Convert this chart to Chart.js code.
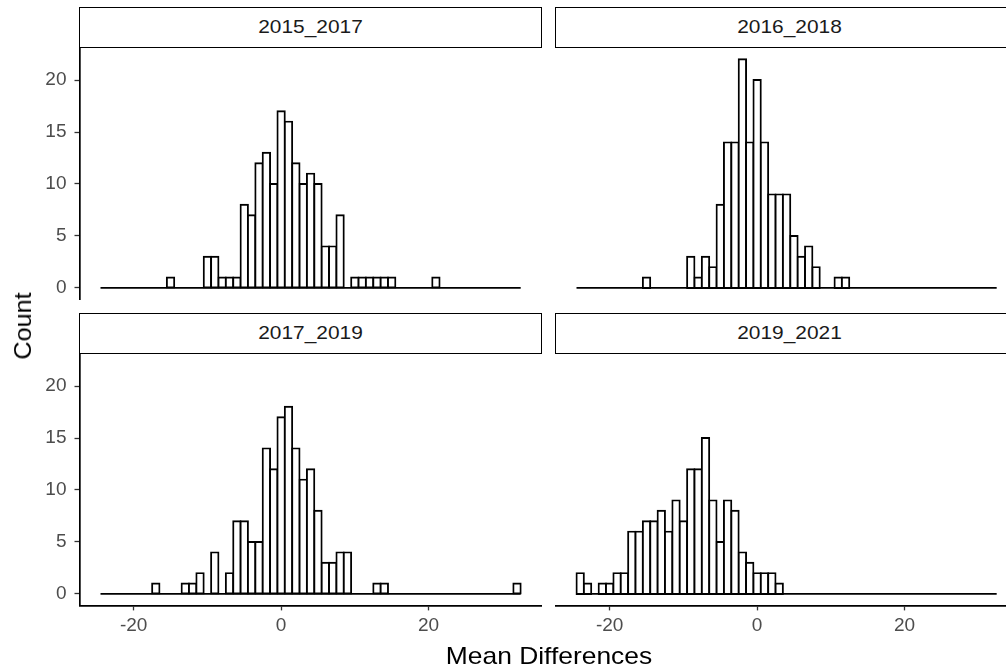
<!DOCTYPE html>
<html>
<head>
<meta charset="utf-8">
<script src="https://cdn.jsdelivr.net/npm/chart.js@4.4.1/dist/chart.umd.min.js"></script>
<style>
  html, body { margin: 0; padding: 0; background: #fff; }
  #wrap { position: relative; width: 1006px; height: 670px; overflow: hidden; background: #fff; font-family: "Liberation Sans", Arial, sans-serif; }
  canvas { position: absolute; }
  .strip { position: absolute; box-sizing: border-box; border: 1.7px solid #000; background: #fff; color: #1A1A1A; font-size: 19px; text-align: center; line-height: 37px; }
  .strip span { display: inline-block; transform: scaleX(1.1); }
  .title { position: absolute; color: #000; font-size: 24px; white-space: nowrap; }
</style>
</head>
<body>
<div id="wrap">
  <div class="strip" style="left:79px; top:6.5px; width:463px; height:41px;"><span>2015_2017</span></div>
  <div class="strip" style="left:555px; top:6.5px; width:470px; height:41px;"><span>2016_2018</span></div>
  <div class="strip" style="left:79px; top:312.5px; width:463px; height:41px;"><span>2017_2019</span></div>
  <div class="strip" style="left:555px; top:312.5px; width:470px; height:41px;"><span>2019_2021</span></div>
  <canvas id="cTL"></canvas>
  <canvas id="cTR"></canvas>
  <canvas id="cBL"></canvas>
  <canvas id="cBR"></canvas>
  <div class="title" style="left:549px; top:656px; transform: translate(-50%,-50%) scaleX(1.1);">Mean Differences</div>
  <div class="title" style="left:23px; top:326px; transform: translate(-50%,-50%) rotate(-90deg) scaleX(1.05);">Count</div>
</div>
<script>
// ---- data ----
const panelNames = ["2015_2017", "2016_2018", "2017_2019", "2019_2021"];
const binCenters = [-24,-23,-22,-21,-20,-19,-18,-17,-16,-15,-14,-13,-12,-11,-10,-9,-8,-7,-6,-5,-4,-3,-2,-1,0,1,2,3,4,5,6,7,8,9,10,11,12,13,14,15,16,17,18,19,20,21,22,23,24,25,26,27,28,29,30,31,32];
const counts2015_2017 = [0,0,0,0,0,0,0,0,0,1,0,0,0,0,3,3,1,1,1,8,7,12,13,10,17,16,12,10,11,10,4,4,7,0,1,1,1,1,1,1,0,0,0,0,0,1,0,0,0,0,0,0,0,0,0,0,0];
const counts2016_2018 = [0,0,0,0,0,0,0,0,0,1,0,0,0,0,0,3,1,3,2,8,14,14,22,14,20,14,9,9,9,5,3,4,2,0,0,1,1,0,0,0,0,0,0,0,0,0,0,0,0,0,0,0,0,0,0,0,0];
const counts2017_2019 = [0,0,0,0,0,0,0,1,0,0,0,1,1,2,0,4,0,2,7,7,5,5,14,12,17,18,14,11,12,8,3,3,4,4,0,0,0,1,1,0,0,0,0,0,0,0,0,0,0,0,0,0,0,0,0,0,1];
const counts2019_2021 = [2,1,0,1,1,2,2,6,6,7,7,8,6,9,7,12,12,15,9,5,9,8,4,3,2,2,2,1,0,0,0,0,0,0,0,0,0,0,0,0,0,0,0,0,0,0,0,0,0,0,0,0,0,0,0,0,0];
const xTickValues = [-20, 0, 20];
const yTickValues = [0, 5, 10, 15, 20];
const baselineX = [-24.5, 32.5];

// ---- layout ----
const X_MIN = -27.35, X_MAX = 35.35, Y_MIN = -1.1, Y_MAX = 23.1;
const PL = { x0: 79.5, x1: 541.7 }, PR = { x0: 555.5, x1: 1017.7 };
const PT = { y0: 47.8, y1: 299.4 }, PB = { y0: 353.8, y1: 605.4 };
const Y_AXIS_W = 79.5, X_AXIS_H = 40;
const FONT = "'Liberation Sans', Arial, sans-serif";

Chart.defaults.font.family = FONT;

function makePanel(id, counts, col, row) {
  const showY = col === 0, showX = row === 1;
  const px = col === 0 ? PL : PR, py = row === 0 ? PT : PB;
  const cx = col === 0 ? 0 : 500, cy = row === 0 ? 0 : 300;
  const cw = col === 0 ? 600 : 560, ch = row === 0 ? 330 : 370;
  const cv = document.getElementById(id);
  cv.width = cw; cv.height = ch;
  cv.style.left = cx + 'px'; cv.style.top = cy + 'px';
  cv.style.width = cw + 'px'; cv.style.height = ch + 'px';
  const padding = {
    left: px.x0 - cx - (showY ? Y_AXIS_W : 0),
    right: cx + cw - px.x1,
    top: py.y0 - cy,
    bottom: cy + ch - py.y1 - (showX ? X_AXIS_H : 0)
  };
  new Chart(cv, {
    type: 'bar',
    data: {
      datasets: [
        {
          type: 'line',
          data: baselineX.map(v => ({ x: v, y: 0 })),
          borderColor: '#000', borderWidth: 1.8, pointRadius: 0, order: 2
        },
        {
          type: 'bar',
          data: binCenters.map((c, i) => ({ x: c, y: counts[i] })),
          backgroundColor: '#fff', borderColor: '#000', borderWidth: 1.9,
          borderSkipped: false, inflateAmount: 0.95,
          barPercentage: 1, categoryPercentage: 1, order: 1
        }
      ]
    },
    options: {
      responsive: false, animation: false, devicePixelRatio: 1,
      layout: { padding },
      plugins: { legend: { display: false }, tooltip: { enabled: false } },
      scales: {
        x: {
          type: 'linear', min: X_MIN, max: X_MAX, offset: false, display: showX,
          afterBuildTicks: a => { a.ticks = xTickValues.map(v => ({ value: v })); },
          afterFit: s => { s.height = showX ? X_AXIS_H : 0; },
          grid: { display: true, offset: false, drawOnChartArea: false, drawTicks: true, tickLength: 5, tickColor: '#333', tickWidth: 1.3 },
          border: { display: true, color: '#000', width: 1.7 },
          ticks: { color: '#4D4D4D', font: { size: 19 }, padding: 4, maxRotation: 0, callback: v => String(v) }
        },
        y: {
          type: 'linear', min: Y_MIN, max: Y_MAX, display: showY,
          afterBuildTicks: a => { a.ticks = yTickValues.map(v => ({ value: v })); },
          afterFit: s => { s.width = showY ? Y_AXIS_W : 0; },
          grid: { display: true, offset: false, drawOnChartArea: false, drawTicks: true, tickLength: 5, tickColor: '#333', tickWidth: 1.3 },
          border: { display: true, color: '#000', width: 1.7 },
          ticks: { color: '#4D4D4D', font: { size: 19 }, padding: 8, callback: v => String(v) }
        }
      }
    }
  });
}

makePanel('cTL', counts2015_2017, 0, 0);
makePanel('cTR', counts2016_2018, 1, 0);
makePanel('cBL', counts2017_2019, 0, 1);
makePanel('cBR', counts2019_2021, 1, 1);
</script>
</body>
</html>
